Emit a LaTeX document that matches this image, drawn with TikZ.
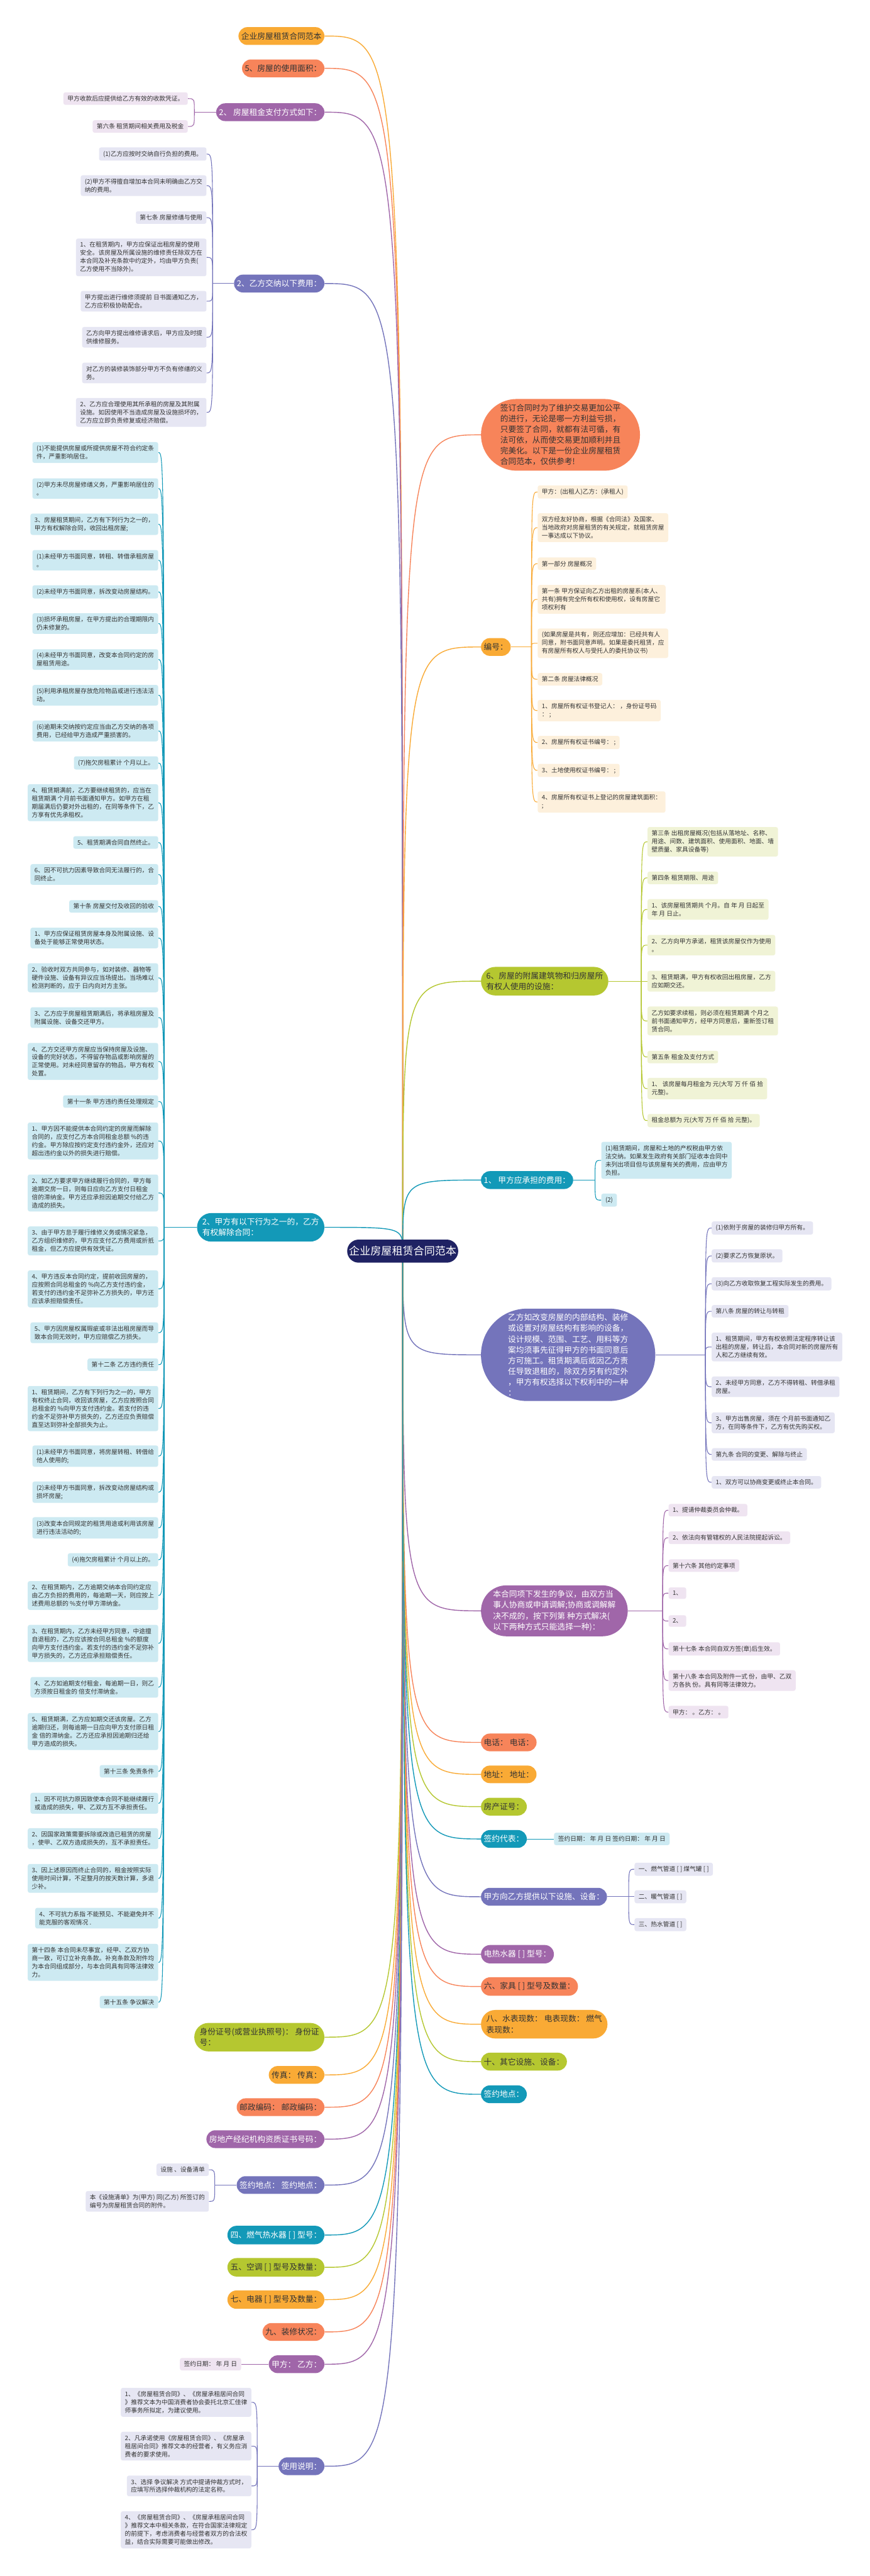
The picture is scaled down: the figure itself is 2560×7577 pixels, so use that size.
\documentclass[tikz,border=0pt]{standalone}
\usepackage{fontspec}
\setmainfont{Noto Sans CJK SC}
\usetikzlibrary{shapes.misc}
\pgfdeclarelayer{bg}
\pgfsetlayers{bg,main}
\definecolor{cOr}{HTML}{F9AA35}
\definecolor{cCo}{HTML}{F7845A}
\definecolor{cPu}{HTML}{A066A9}
\definecolor{cBv}{HTML}{7474BB}
\definecolor{cTe}{HTML}{1399B8}
\definecolor{cLi}{HTML}{B5C730}
\definecolor{cRoot}{HTML}{1F2263}
\definecolor{lOr}{HTML}{FDF0DC}
\definecolor{lPu}{HTML}{EFE4F1}
\definecolor{lBv}{HTML}{E6E6F3}
\definecolor{lTe}{HTML}{CDEAF2}
\definecolor{lLi}{HTML}{F0F3D6}
\definecolor{txt}{HTML}{333333}
\tikzset{
 rootnode/.style={rounded rectangle, fill=cRoot, text=white, font=\fontsize{15.8}{20}\selectfont, inner xsep=1pt, inner ysep=9.6pt},
 br/.style={rounded rectangle, inner xsep=3pt, inner ysep=7.6pt, font=\fontsize{11.8}{15.8}\selectfont, align=left},
 bOr/.style={br, fill=cOr, text=txt},
 bCo/.style={br, fill=cCo, text=txt},
 bLi/.style={br, fill=cLi, text=txt},
 bPu/.style={br, fill=cPu, text=white},
 bBv/.style={br, fill=cBv, text=white},
 bTe/.style={br, fill=cTe, text=white},
 lf/.style={rounded corners=3pt, inner xsep=6pt, inner ysep=5pt, font=\fontsize{9}{12}\selectfont, align=left, text=txt},
 fOr/.style={lf, fill=lOr},
 fPu/.style={lf, fill=lPu},
 fBv/.style={lf, fill=lBv},
 fTe/.style={lf, fill=lTe},
 fLi/.style={lf, fill=lLi},
 rc/.style={line width=1.3pt},
 lc/.style={line width=1pt},
}
\newcommand\rconL[2]{\draw[rc,#2] (root.center) .. controls (root.center |- #1.east) .. (#1.east);}
\newcommand\rconR[2]{\draw[rc,#2] (root.center) .. controls (root.center |- #1.west) .. (#1.west);}
\newcommand\lconL[3]{\draw[lc,#3] (#1) .. controls (#1 |- #2.east) .. (#2.east);}
\newcommand\lconR[3]{\draw[lc,#3] (#1) .. controls (#1 |- #2.west) .. (#2.west);}
\begin{document}
\begin{tikzpicture}[x=0.5pt,y=-0.5pt]
\begin{pgfonlayer}{bg}
\fill[white] (0,0) rectangle (2560,7577);
\end{pgfonlayer}
\useasboundingbox (0,0) rectangle (2560,7577);

\node[rootnode] (root) at (1185,3680) {企业房屋租赁合同范本};

% ---------- left branches ----------
\node[bOr, anchor=east] (bL1) at (955,106) {企业房屋租赁合同范本};
\node[bCo, anchor=east] (bL2) at (955,201) {5、房屋的使用面积：};
\node[bPu, anchor=east] (bL3) at (955,330) {2、 房屋租金支付方式如下：};
\node[bBv, anchor=east] (bL4) at (955,834) {2、乙方交纳以下费用：};
\node[bTe, anchor=east] (bL5) at (955,3610) {2、甲方有以下行为之一的，乙方\\有权解除合同：};
\node[bLi, anchor=east] (bL6) at (955,5992) {身份证号(或营业执照号)： 身份证\\号：};
\node[bOr, anchor=east] (bL7) at (955,6103) {传真： 传真：};
\node[bCo, anchor=east] (bL8) at (955,6198) {邮政编码： 邮政编码：};
\node[bPu, anchor=east] (bL9) at (955,6292) {房地产经纪机构资质证书号码：};
\node[bBv, anchor=east] (bL10) at (955,6427) {签约地点： 签约地点：};
\node[bTe, anchor=east] (bL11) at (955,6574) {四、燃气热水器 [ ] 型号：};
\node[bLi, anchor=east] (bL12) at (955,6669) {五、空调 [ ] 型号及数量：};
\node[bOr, anchor=east] (bL13) at (955,6764) {七、电器 [ ] 型号及数量：};
\node[bCo, anchor=east] (bL14) at (955,6859) {九、装修状况：};
\node[bPu, anchor=east] (bL15) at (955,6954) {甲方： 乙方：};
\node[bBv, anchor=east] (bL16) at (955,7254) {使用说明：};

% ---------- right branches ----------
\node[bCo, anchor=west] (bR1) at (1415,1279) {签订合同时为了维护交易更加公平\\的进行，无论是哪一方利益亏损，\\只要签了合同，就都有法可循，有\\法可依，从而使交易更加顺利并且\\完美化。以下是一份企业房屋租赁\\合同范本，仅供参考!};
\node[bOr, anchor=west] (bR2) at (1415,1903) {编号：};
\node[bLi, anchor=west] (bR3) at (1415,2886) {6、房屋的附属建筑物和归房屋所\\有权人使用的设施：};
\node[bTe, anchor=west] (bR4) at (1415,3471) {1、 甲方应承担的费用：};
\node[bBv, anchor=west] (bR5) at (1415,3985) {乙方如改变房屋的内部结构、装修\\或设置对房屋结构有影响的设备，\\设计规模、范围、工艺、用料等方\\案均须事先征得甲方的书面同意后\\方可施工。租赁期满后或因乙方责\\任导致退租的，除双方另有约定外\\，甲方有权选择以下权利中的一种\\：};
\node[bPu, anchor=west] (bR6) at (1415,4738) {本合同项下发生的争议，由双方当\\事人协商或申请调解;协商或调解解\\决不成的，按下列第 种方式解决(\\以下两种方式只能选择一种)：};
\node[bCo, anchor=west] (bR7) at (1415,5125) {电话： 电话：};
\node[bOr, anchor=west] (bR8) at (1415,5219) {地址： 地址：};
\node[bLi, anchor=west] (bR9) at (1415,5314) {房产证号：};
\node[bTe, anchor=west] (bR10) at (1415,5409) {签约代表：};
\node[bBv, anchor=west] (bR11) at (1415,5579) {甲方向乙方提供以下设施、设备：};
\node[bPu, anchor=west] (bR12) at (1415,5748) {电热水器 [ ] 型号：};
\node[bCo, anchor=west] (bR13) at (1415,5843) {六、家具 [ ] 型号及数量：};
\node[bOr, anchor=west] (bR14) at (1415,5954) {八、水表现数： 电表现数： 燃气\\表现数：};
\node[bLi, anchor=west] (bR15) at (1415,6064) {十、其它设施、设备：};
\node[bTe, anchor=west] (bR16) at (1415,6160) {签约地点：};

% ---------- leaves of bL3 ----------
\coordinate (sp3) at (572,330);
\node[fPu, anchor=east] (a1) at (553,290) {甲方收款后应提供给乙方有效的收款凭证。};
\node[fPu, anchor=east] (a2) at (553,372) {第六条 租赁期间相关费用及税金};

% ---------- leaves of bL4 ----------
\coordinate (sp4) at (626,834);
\node[fBv, anchor=east] (u1) at (608,453) {(1)乙方应按时交纳自行负担的费用。};
\node[fBv, anchor=east] (u2) at (608,546) {(2)甲方不得擅自增加本合同未明确由乙方交\\纳的费用。};
\node[fBv, anchor=east] (u3) at (608,640) {第七条 房屋修缮与使用};
\node[fBv, anchor=east] (u4) at (608,757) {1、在租赁期内，甲方应保证出租房屋的使用\\安全。该房屋及所属设施的维修责任除双方在\\本合同及补充条款中约定外，均由甲方负责(\\乙方使用不当除外)。};
\node[fBv, anchor=east] (u5) at (608,886) {甲方提出进行维修须提前 日书面通知乙方，\\乙方应积极协助配合。};
\node[fBv, anchor=east] (u6) at (608,992) {乙方向甲方提出维修请求后，甲方应及时提\\供维修服务。};
\node[fBv, anchor=east] (u7) at (608,1097) {对乙方的装修装饰部分甲方不负有修缮的义\\务。};
\node[fBv, anchor=east] (u8) at (608,1213) {2、乙方应合理使用其所承租的房屋及其附属\\设施。如因使用不当造成房屋及设施损坏的，\\乙方应立即负责修复或经济赔偿。};

% ---------- leaves of bL5 ----------
\coordinate (sp5) at (483,3610);
\node[fTe, anchor=east] (t1) at (466,1331) {(1)不能提供房屋或所提供房屋不符合约定条\\件，严重影响居住。};
\node[fTe, anchor=east] (t2) at (466,1437) {(2)甲方未尽房屋修缮义务，严重影响居住的\\。};
\node[fTe, anchor=east] (t3) at (466,1542) {3、房屋租赁期间，乙方有下列行为之一的，\\甲方有权解除合同，收回出租房屋;};
\node[fTe, anchor=east] (t4) at (466,1648) {(1)未经甲方书面同意，转租、转借承租房屋\\。};
\node[fTe, anchor=east] (t5) at (466,1741) {(2)未经甲方书面同意，拆改变动房屋结构。};
\node[fTe, anchor=east] (t6) at (466,1834) {(3)损坏承租房屋，在甲方提出的合理期限内\\仍未修复的。};
\node[fTe, anchor=east] (t7) at (466,1940) {(4)未经甲方书面同意，改变本合同约定的房\\屋租赁用途。};
\node[fTe, anchor=east] (t8) at (466,2045) {(5)利用承租房屋存放危险物品或进行违法活\\动。};
\node[fTe, anchor=east] (t9) at (466,2150) {(6)逾期未交纳按约定应当由乙方交纳的各项\\费用，已经给甲方造成严重损害的。};
\node[fTe, anchor=east] (t10) at (466,2244) {(7)拖欠房租累计 个月以上。};
\node[fTe, anchor=east] (t11) at (466,2361) {4、租赁期满前，乙方要继续租赁的，应当在\\租赁期满 个月前书面通知甲方。如甲方在租\\期届满后仍要对外出租的，在同等条件下，乙\\方享有优先承租权。};
\node[fTe, anchor=east] (t12) at (466,2478) {5、租赁期满合同自然终止。};
\node[fTe, anchor=east] (t13) at (466,2572) {6、因不可抗力因素导致合同无法履行的，合\\同终止。};
\node[fTe, anchor=east] (t14) at (466,2666) {第十条 房屋交付及收回的验收};
\node[fTe, anchor=east] (t15) at (466,2759) {1、甲方应保证租赁房屋本身及附属设施、设\\备处于能够正常使用状态。};
\node[fTe, anchor=east] (t16) at (466,2876) {2、验收时双方共同参与，如对装修、器物等\\硬件设施、设备有异议应当场提出。当场难以\\检测判断的，应于 日内向对方主张。};
\node[fTe, anchor=east] (t17) at (466,2993) {3、乙方应于房屋租赁期满后，将承租房屋及\\附属设施、设备交还甲方。};
\node[fTe, anchor=east] (t18) at (466,3122) {4、乙方交还甲方房屋应当保持房屋及设施、\\设备的完好状态，不得留存物品或影响房屋的\\正常使用。对未经同意留存的物品，甲方有权\\处置。};
\node[fTe, anchor=east] (t19) at (466,3240) {第十一条 甲方违约责任处理规定};
\node[fTe, anchor=east] (t20) at (466,3356) {1、甲方因不能提供本合同约定的房屋而解除\\合同的，应支付乙方本合同租金总额 \%的违\\约金。甲方除应按约定支付违约金外，还应对\\超出违约金以外的损失进行赔偿。};
\node[fTe, anchor=east] (t21) at (466,3509) {2、如乙方要求甲方继续履行合同的，甲方每\\逾期交房一日，则每日应向乙方支付日租金\\倍的滞纳金。甲方还应承担因逾期交付给乙方\\造成的损失。};
\node[fTe, anchor=east] (t22) at (466,3650) {3、由于甲方怠于履行维修义务或情况紧急，\\乙方组织维修的，甲方应支付乙方费用或折抵\\租金，但乙方应提供有效凭证。};
\node[fTe, anchor=east] (t23) at (466,3791) {4、甲方违反本合同约定，提前收回房屋的，\\应按照合同总租金的 \%向乙方支付违约金，\\若支付的违约金不足弥补乙方损失的，甲方还\\应该承担赔偿责任。};
\node[fTe, anchor=east] (t24) at (466,3920) {5、甲方因房屋权属瑕疵或非法出租房屋而导\\致本合同无效时，甲方应赔偿乙方损失。};
\node[fTe, anchor=east] (t25) at (466,4014) {第十二条 乙方违约责任};
\node[fTe, anchor=east] (t26) at (466,4143) {1、租赁期间，乙方有下列行为之一的，甲方\\有权终止合同，收回该房屋，乙方应按照合同\\总租金的 \%向甲方支付违约金。若支付的违\\约金不足弥补甲方损失的，乙方还应负责赔偿\\直至达到弥补全部损失为止。};
\node[fTe, anchor=east] (t27) at (466,4283) {(1)未经甲方书面同意，将房屋转租、转借给\\他人使用的;};
\node[fTe, anchor=east] (t28) at (466,4389) {(2)未经甲方书面同意，拆改变动房屋结构或\\损坏房屋;};
\node[fTe, anchor=east] (t29) at (466,4494) {(3)改变本合同规定的租赁用途或利用该房屋\\进行违法活动的;};
\node[fTe, anchor=east] (t30) at (466,4588) {(4)拖欠房租累计 个月以上的。};
\node[fTe, anchor=east] (t31) at (466,4693) {2、在租赁期内，乙方逾期交纳本合同约定应\\由乙方负担的费用的，每逾期一天，则应按上\\述费用总额的 \%支付甲方滞纳金。};
\node[fTe, anchor=east] (t32) at (466,4834) {3、在租赁期内，乙方未经甲方同意，中途擅\\自退租的，乙方应该按合同总租金 \%的额度\\向甲方支付违约金。若支付的违约金不足弥补\\甲方损失的，乙方还应承担赔偿责任。};
\node[fTe, anchor=east] (t33) at (466,4963) {4、乙方如逾期支付租金，每逾期一日，则乙\\方须按日租金的 倍支付滞纳金。};
\node[fTe, anchor=east] (t34) at (466,5093) {5、租赁期满，乙方应如期交还该房屋。乙方\\逾期归还，则每逾期一日应向甲方支付原日租\\金 倍的滞纳金。乙方还应承担因逾期归还给\\甲方造成的损失。};
\node[fTe, anchor=east] (t35) at (466,5210) {第十三条 免责条件};
\node[fTe, anchor=east] (t36) at (466,5304) {1、因不可抗力原因致使本合同不能继续履行\\或造成的损失，甲、乙双方互不承担责任。};
\node[fTe, anchor=east] (t37) at (466,5408) {2、因国家政策需要拆除或改造已租赁的房屋\\，使甲、乙双方造成损失的，互不承担责任。};
\node[fTe, anchor=east] (t38) at (466,5525) {3、因上述原因而终止合同的，租金按照实际\\使用时间计算，不足整月的按天数计算，多退\\少补。};
\node[fTe, anchor=east] (t39) at (466,5642) {4、不可抗力系指 不能预见、不能避免并不\\能克服的客观情况 .};
\node[fTe, anchor=east] (t40) at (466,5772) {第十四条 本合同未尽事宜，经甲、乙双方协\\商一致，可订立补充条款。补充条款及附件均\\为本合同组成部分，与本合同具有同等法律效\\力。};
\node[fTe, anchor=east] (t41) at (466,5889) {第十五条 争议解决};

% ---------- leaves of bL10, bL15, bL16 ----------
\coordinate (sp10) at (632,6427);
\node[fBv, anchor=east] (d1) at (615,6382) {设施 、设备清单};
\node[fBv, anchor=east] (d2) at (615,6475) {本《设施清单》为(甲方) 同(乙方) 所签订的\\编号为房屋租赁合同的附件。};
\node[fPu, anchor=east] (e1) at (710,6954) {签约日期： 年 月 日};
\coordinate (sp16) at (757,7254);
\node[fBv, anchor=east] (s1) at (740,7066) {1、《房屋租赁合同》、《房屋承租居间合同\\》推荐文本为中国消费者协会委托北京汇佳律\\师事务所拟定，为建议使用。};
\node[fBv, anchor=east] (s2) at (740,7195) {2、凡承诺使用《房屋租赁合同》、《房屋承\\租居间合同》推荐文本的经营者，有义务应消\\费者的要求使用。};
\node[fBv, anchor=east] (s3) at (740,7312) {3、选择 争议解决 方式中提请仲裁方式时，\\应填写所选择仲裁机构的法定名称。};
\node[fBv, anchor=east] (s4) at (740,7441) {4、《房屋租赁合同》、《房屋承租居间合同\\》推荐文本中相关条款，在符合国家法律规定\\的前提下，考虑消费者与经营者双方的合法权\\益，结合实际需要可能做出修改。};

% ---------- leaves of bR2 ----------
\coordinate (rp2) at (1564,1903);
\node[fOr, anchor=west] (o1) at (1582,1447) {甲方：(出租人)乙方：(承租人)};
\node[fOr, anchor=west] (o2) at (1582,1552) {双方经友好协商，根据《合同法》及国家、\\当地政府对房屋租赁的有关规定，就租赁房屋\\一事达成以下协议。};
\node[fOr, anchor=west] (o3) at (1582,1658) {第一部分 房屋概况};
\node[fOr, anchor=west] (o4) at (1582,1763) {第一条 甲方保证向乙方出租的房屋系(本人、\\共有)拥有完全所有权和使用权，设有房屋它\\项权利有};
\node[fOr, anchor=west] (o5) at (1582,1892) {(如果房屋是共有，则还应增加：已经共有人\\同意，附书面同意声明。如果是委托租赁，应\\有房屋所有权人与受托人的委托协议书)};
\node[fOr, anchor=west] (o6) at (1582,1998) {第二条 房屋法律概况};
\node[fOr, anchor=west] (o7) at (1582,2090) {1、房屋所有权证书登记人： ，身份证号码\\： ;};
\node[fOr, anchor=west] (o8) at (1582,2184) {2、房屋所有权证书编号： ;};
\node[fOr, anchor=west] (o9) at (1582,2266) {3、土地使用权证书编号： ;};
\node[fOr, anchor=west] (o10) at (1582,2359) {4、房屋所有权证书上登记的房屋建筑面积：\\;};

% ---------- leaves of bR3 ----------
\coordinate (rp3) at (1887,2886);
\node[fLi, anchor=west] (g1) at (1905,2476) {第三条 出租房屋概况(包括从落地址、名称、\\用途、间数、建筑面积、使用面积、地面、墙\\壁质量、家具设备等)};
\node[fLi, anchor=west] (g2) at (1905,2582) {第四条 租赁期限、用途};
\node[fLi, anchor=west] (g3) at (1905,2675) {1、该房屋租赁期共 个月。自 年 月 日起至\\年 月 日止。};
\node[fLi, anchor=west] (g4) at (1905,2780) {2、乙方向甲方承诺，租赁该房屋仅作为使用\\。};
\node[fLi, anchor=west] (g5) at (1905,2886) {3、租赁期满，甲方有权收回出租房屋，乙方\\应如期交还。};
\node[fLi, anchor=west] (g6) at (1905,3003) {乙方如要求续租，则必须在租赁期满 个月之\\前书面通知甲方，经甲方同意后，重新签订租\\赁合同。};
\node[fLi, anchor=west] (g7) at (1905,3109) {第五条 租金及支付方式};
\node[fLi, anchor=west] (g8) at (1905,3202) {1、 该房屋每月租金为 元(大写 万 仟 佰 拾\\元整)。};
\node[fLi, anchor=west] (g9) at (1905,3296) {租金总额为 元(大写 万 仟 佰 拾 元整)。};

% ---------- leaves of bR4 ----------
\coordinate (rp4) at (1751,3471);
\node[fTe, anchor=west] (f1) at (1769,3413) {(1)租赁期间，房屋和土地的产权税由甲方依\\法交纳。如果发生政府有关部门征收本合同中\\未列出项目但与该房屋有关的费用，应由甲方\\负担。};
\node[fTe, anchor=west] (f2) at (1769,3530) {(2)};

% ---------- leaves of bR5 ----------
\coordinate (rp5) at (2076,3985);
\node[fBv, anchor=west] (v1) at (2094,3612) {(1)依附于房屋的装修归甲方所有。};
\node[fBv, anchor=west] (v2) at (2094,3694) {(2)要求乙方恢复原状。};
\node[fBv, anchor=west] (v3) at (2094,3776) {(3)向乙方收取恢复工程实际发生的费用。};
\node[fBv, anchor=west] (v4) at (2094,3857) {第八条 房屋的转让与转租};
\node[fBv, anchor=west] (v5) at (2094,3962) {1、租赁期间，甲方有权依照法定程序转让该\\出租的房屋，转让后，本合同对新的房屋所有\\人和乙方继续有效。};
\node[fBv, anchor=west] (v6) at (2094,4079) {2、未经甲方同意，乙方不得转租、转借承租\\房屋。};
\node[fBv, anchor=west] (v7) at (2094,4185) {3、甲方出售房屋，须在 个月前书面通知乙\\方，在同等条件下，乙方有优先购买权。};
\node[fBv, anchor=west] (v8) at (2094,4278) {第九条 合同的变更、解除与终止};
\node[fBv, anchor=west] (v9) at (2094,4360) {1、双方可以协商变更或终止本合同。};

% ---------- leaves of bR6 ----------
\coordinate (rp6) at (1950,4738);
\node[fPu, anchor=west] (p1) at (1967,4442) {1、提请仲裁委员会仲裁。};
\node[fPu, anchor=west] (p2) at (1967,4523) {2、依法向有管辖权的人民法院提起诉讼。};
\node[fPu, anchor=west] (p3) at (1967,4605) {第十六条 其他约定事项};
\node[fPu, anchor=west] (p4) at (1967,4686) {1、};
\node[fPu, anchor=west] (p5) at (1967,4768) {2、};
\node[fPu, anchor=west] (p6) at (1967,4850) {第十七条 本合同自双方签(章)后生效。};
\node[fPu, anchor=west] (p7) at (1967,4943) {第十八条 本合同及附件一式 份，由甲、乙双\\方各执 份。具有同等法律效力。};
\node[fPu, anchor=west] (p8) at (1967,5036) {甲方： 。乙方： 。};

% ---------- leaves of bR10, bR11 ----------
\node[fTe, anchor=west] (h1) at (1630,5409) {签约日期： 年 月 日 签约日期： 年 月 日};
\coordinate (rp11) at (1850,5579);
\node[fBv, anchor=west] (k1) at (1867,5498) {一、燃气管道 [ ] 煤气罐 [ ]};
\node[fBv, anchor=west] (k2) at (1867,5579) {二、暖气管道 [ ]};
\node[fBv, anchor=west] (k3) at (1867,5661) {三、热水管道 [ ]};

% ---------- connectors ----------
\begin{pgfonlayer}{bg}
\rconL{bL1}{cOr}
\rconL{bL2}{cCo}
\rconL{bL3}{cPu}
\rconL{bL4}{cBv}
\rconL{bL5}{cTe}
\rconL{bL6}{cLi}
\rconL{bL7}{cOr}
\rconL{bL8}{cCo}
\rconL{bL9}{cPu}
\rconL{bL10}{cBv}
\rconL{bL11}{cTe}
\rconL{bL12}{cLi}
\rconL{bL13}{cOr}
\rconL{bL14}{cCo}
\rconL{bL15}{cPu}
\rconL{bL16}{cBv}
\rconR{bR1}{cCo}
\rconR{bR2}{cOr}
\rconR{bR3}{cLi}
\rconR{bR4}{cTe}
\rconR{bR5}{cBv}
\rconR{bR6}{cPu}
\rconR{bR7}{cCo}
\rconR{bR8}{cOr}
\rconR{bR9}{cLi}
\rconR{bR10}{cTe}
\rconR{bR11}{cBv}
\rconR{bR12}{cPu}
\rconR{bR13}{cCo}
\rconR{bR14}{cOr}
\rconR{bR15}{cLi}
\rconR{bR16}{cTe}

\draw[lc,cPu] (bL3.west) -- (sp3);
\foreach \i in {1,2} {\lconL{sp3}{a\i}{cPu}}
\draw[lc,cBv] (bL4.west) -- (sp4);
\foreach \i in {1,...,8} {\lconL{sp4}{u\i}{cBv}}
\draw[lc,cTe] (bL5.west) -- (sp5);
\foreach \i in {1,...,41} {\lconL{sp5}{t\i}{cTe}}
\draw[lc,cBv] (bL10.west) -- (sp10);
\foreach \i in {1,2} {\lconL{sp10}{d\i}{cBv}}
\draw[lc,cPu] (bL15.west) -- (e1.east);
\draw[lc,cBv] (bL16.west) -- (sp16);
\foreach \i in {1,...,4} {\lconL{sp16}{s\i}{cBv}}

\draw[lc,cOr] (bR2.east) -- (rp2);
\foreach \i in {1,...,10} {\lconR{rp2}{o\i}{cOr}}
\draw[lc,cLi] (bR3.east) -- (rp3);
\foreach \i in {1,...,9} {\lconR{rp3}{g\i}{cLi}}
\draw[lc,cTe] (bR4.east) -- (rp4);
\foreach \i in {1,2} {\lconR{rp4}{f\i}{cTe}}
\draw[lc,cBv] (bR5.east) -- (rp5);
\foreach \i in {1,...,9} {\lconR{rp5}{v\i}{cBv}}
\draw[lc,cPu] (bR6.east) -- (rp6);
\foreach \i in {1,...,8} {\lconR{rp6}{p\i}{cPu}}
\draw[lc,cTe] (bR10.east) -- (h1.west);
\draw[lc,cBv] (bR11.east) -- (rp11);
\foreach \i in {1,2,3} {\lconR{rp11}{k\i}{cBv}}
\end{pgfonlayer}
\end{tikzpicture}
\end{document}
